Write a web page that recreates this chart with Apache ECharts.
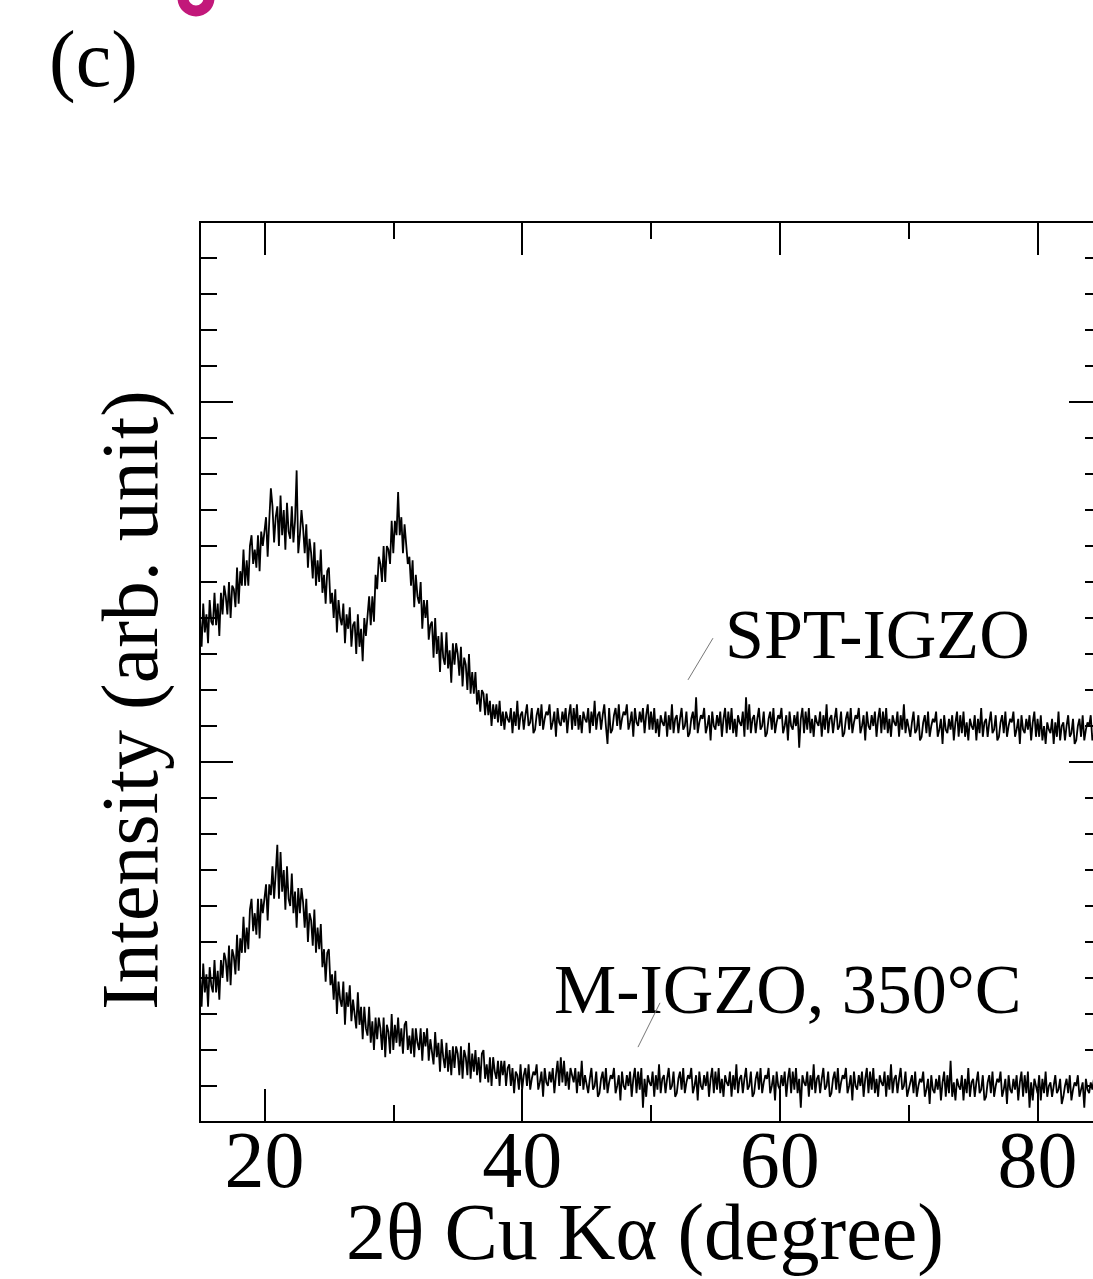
<!DOCTYPE html>
<html>
<head>
<meta charset="utf-8">
<script src="https://cdn.jsdelivr.net/npm/echarts@6/dist/echarts.min.js"></script>
<style>
html,body{margin:0;padding:0;background:#fff;overflow:hidden;}
#chart{width:1093px;height:1279px;}
</style>
</head>
<body>
<div id="chart"></div>
<script>
// 2θ (degree) sampling of the scans
const twoTheta = [
15,15.125,15.25,15.375,15.5,15.625,15.75,15.875,
16,16.125,16.25,16.375,16.5,16.625,16.75,16.875,
17,17.125,17.25,17.375,17.5,17.625,17.75,17.875,
18,18.125,18.25,18.375,18.5,18.625,18.75,18.875,
19,19.125,19.25,19.375,19.5,19.625,19.75,19.875,
20,20.125,20.25,20.375,20.5,20.625,20.75,20.875,
21,21.125,21.25,21.375,21.5,21.625,21.75,21.875,
22,22.125,22.25,22.375,22.5,22.625,22.75,22.875,
23,23.125,23.25,23.375,23.5,23.625,23.75,23.875,
24,24.125,24.25,24.375,24.5,24.625,24.75,24.875,
25,25.125,25.25,25.375,25.5,25.625,25.75,25.875,
26,26.125,26.25,26.375,26.5,26.625,26.75,26.875,
27,27.125,27.25,27.375,27.5,27.625,27.75,27.875,
28,28.125,28.25,28.375,28.5,28.625,28.75,28.875,
29,29.125,29.25,29.375,29.5,29.625,29.75,29.875,
30,30.125,30.25,30.375,30.5,30.625,30.75,30.875,
31,31.125,31.25,31.375,31.5,31.625,31.75,31.875,
32,32.125,32.25,32.375,32.5,32.625,32.75,32.875,
33,33.125,33.25,33.375,33.5,33.625,33.75,33.875,
34,34.125,34.25,34.375,34.5,34.625,34.75,34.875,
35,35.125,35.25,35.375,35.5,35.625,35.75,35.875,
36,36.125,36.25,36.375,36.5,36.625,36.75,36.875,
37,37.125,37.25,37.375,37.5,37.625,37.75,37.875,
38,38.125,38.25,38.375,38.5,38.625,38.75,38.875,
39,39.125,39.25,39.375,39.5,39.625,39.75,39.875,
40,40.125,40.25,40.375,40.5,40.625,40.75,40.875,
41,41.125,41.25,41.375,41.5,41.625,41.75,41.875,
42,42.125,42.25,42.375,42.5,42.625,42.75,42.875,
43,43.125,43.25,43.375,43.5,43.625,43.75,43.875,
44,44.125,44.25,44.375,44.5,44.625,44.75,44.875,
45,45.125,45.25,45.375,45.5,45.625,45.75,45.875,
46,46.125,46.25,46.375,46.5,46.625,46.75,46.875,
47,47.125,47.25,47.375,47.5,47.625,47.75,47.875,
48,48.125,48.25,48.375,48.5,48.625,48.75,48.875,
49,49.125,49.25,49.375,49.5,49.625,49.75,49.875,
50,50.125,50.25,50.375,50.5,50.625,50.75,50.875,
51,51.125,51.25,51.375,51.5,51.625,51.75,51.875,
52,52.125,52.25,52.375,52.5,52.625,52.75,52.875,
53,53.125,53.25,53.375,53.5,53.625,53.75,53.875,
54,54.125,54.25,54.375,54.5,54.625,54.75,54.875,
55,55.125,55.25,55.375,55.5,55.625,55.75,55.875,
56,56.125,56.25,56.375,56.5,56.625,56.75,56.875,
57,57.125,57.25,57.375,57.5,57.625,57.75,57.875,
58,58.125,58.25,58.375,58.5,58.625,58.75,58.875,
59,59.125,59.25,59.375,59.5,59.625,59.75,59.875,
60,60.125,60.25,60.375,60.5,60.625,60.75,60.875,
61,61.125,61.25,61.375,61.5,61.625,61.75,61.875,
62,62.125,62.25,62.375,62.5,62.625,62.75,62.875,
63,63.125,63.25,63.375,63.5,63.625,63.75,63.875,
64,64.125,64.25,64.375,64.5,64.625,64.75,64.875,
65,65.125,65.25,65.375,65.5,65.625,65.75,65.875,
66,66.125,66.25,66.375,66.5,66.625,66.75,66.875,
67,67.125,67.25,67.375,67.5,67.625,67.75,67.875,
68,68.125,68.25,68.375,68.5,68.625,68.75,68.875,
69,69.125,69.25,69.375,69.5,69.625,69.75,69.875,
70,70.125,70.25,70.375,70.5,70.625,70.75,70.875,
71,71.125,71.25,71.375,71.5,71.625,71.75,71.875,
72,72.125,72.25,72.375,72.5,72.625,72.75,72.875,
73,73.125,73.25,73.375,73.5,73.625,73.75,73.875,
74,74.125,74.25,74.375,74.5,74.625,74.75,74.875,
75,75.125,75.25,75.375,75.5,75.625,75.75,75.875,
76,76.125,76.25,76.375,76.5,76.625,76.75,76.875,
77,77.125,77.25,77.375,77.5,77.625,77.75,77.875,
78,78.125,78.25,78.375,78.5,78.625,78.75,78.875,
79,79.125,79.25,79.375,79.5,79.625,79.75,79.875,
80,80.125,80.25,80.375,80.5,80.625,80.75,80.875,
81,81.125,81.25,81.375,81.5,81.625,81.75,81.875,
82,82.125,82.25,82.375,82.5,82.625,82.75,82.875,
83,83.125,83.25,83.375,83.5,83.625,83.75,83.875,
84,84.125,84.25,84.375,84.5,84.625,84.75,84.875,
85
];

// SPT-IGZO intensity (arb. unit, offset trace)
const sptIGZO = [
1.40,1.32,1.44,1.36,1.41,1.33,1.45,1.39,
1.38,1.47,1.38,1.44,1.35,1.47,1.41,1.49,
1.46,1.41,1.50,1.40,1.49,1.48,1.43,1.54,
1.44,1.53,1.49,1.59,1.49,1.56,1.49,1.60,
1.63,1.55,1.59,1.54,1.63,1.53,1.64,1.60,
1.60,1.68,1.57,1.67,1.76,1.71,1.61,1.68,
1.71,1.60,1.74,1.63,1.70,1.59,1.72,1.64,
1.62,1.71,1.61,1.67,1.81,1.58,1.63,1.70,
1.65,1.58,1.66,1.54,1.62,1.58,1.51,1.61,
1.49,1.56,1.50,1.59,1.47,1.52,1.44,1.53,
1.54,1.44,1.47,1.40,1.48,1.36,1.45,1.40,
1.38,1.44,1.33,1.41,1.37,1.43,1.32,1.38,
1.39,1.30,1.41,1.32,1.37,1.28,1.40,1.35,
1.35,1.46,1.38,1.46,1.39,1.52,1.48,1.57,
1.55,1.50,1.60,1.50,1.60,1.59,1.55,1.67,
1.58,1.67,1.63,1.75,1.63,1.68,1.58,1.66,
1.66,1.55,1.57,1.49,1.56,1.43,1.52,1.46,
1.44,1.50,1.37,1.45,1.40,1.45,1.34,1.38,
1.39,1.29,1.40,1.30,1.35,1.25,1.36,1.29,
1.27,1.36,1.26,1.31,1.22,1.33,1.27,1.33,
1.30,1.24,1.32,1.21,1.29,1.27,1.20,1.30,
1.19,1.25,1.19,1.25,1.16,1.20,1.14,1.20,
1.19,1.13,1.19,1.13,1.17,1.10,1.16,1.12,
1.16,1.11,1.17,1.10,1.14,1.09,1.14,1.12,
1.11,1.15,1.08,1.14,1.10,1.17,1.09,1.13,
1.14,1.09,1.13,1.16,1.10,1.11,1.15,1.08,
1.09,1.13,1.15,1.10,1.16,1.09,1.12,1.14,
1.13,1.16,1.09,1.11,1.14,1.07,1.15,1.11,
1.10,1.14,1.11,1.15,1.08,1.13,1.16,1.09,
1.15,1.10,1.16,1.09,1.13,1.08,1.14,1.12,
1.11,1.15,1.08,1.14,1.10,1.17,1.09,1.13,
1.14,1.09,1.13,1.16,1.10,1.05,1.15,1.08,
1.09,1.13,1.15,1.10,1.16,1.09,1.12,1.14,
1.13,1.16,1.09,1.11,1.14,1.07,1.15,1.11,
1.10,1.14,1.11,1.15,1.08,1.13,1.16,1.09,
1.14,1.09,1.15,1.08,1.12,1.07,1.13,1.11,
1.10,1.14,1.07,1.13,1.09,1.16,1.08,1.12,
1.13,1.08,1.12,1.15,1.09,1.10,1.14,1.07,
1.08,1.12,1.14,1.09,1.18,1.08,1.11,1.13,
1.12,1.15,1.08,1.10,1.13,1.06,1.14,1.10,
1.09,1.13,1.10,1.14,1.07,1.12,1.15,1.08,
1.14,1.09,1.15,1.08,1.12,1.07,1.13,1.11,
1.10,1.14,1.07,1.18,1.09,1.16,1.08,1.12,
1.13,1.08,1.12,1.15,1.09,1.10,1.14,1.07,
1.08,1.12,1.14,1.09,1.15,1.08,1.11,1.13,
1.12,1.15,1.08,1.10,1.13,1.06,1.14,1.10,
1.09,1.13,1.10,1.14,1.04,1.12,1.15,1.08,
1.14,1.09,1.15,1.08,1.12,1.07,1.13,1.11,
1.10,1.14,1.07,1.13,1.09,1.16,1.08,1.12,
1.13,1.08,1.12,1.15,1.09,1.10,1.14,1.07,
1.08,1.12,1.14,1.09,1.15,1.08,1.11,1.13,
1.12,1.15,1.08,1.10,1.13,1.06,1.14,1.10,
1.09,1.13,1.10,1.14,1.07,1.12,1.15,1.08,
1.14,1.09,1.15,1.08,1.12,1.07,1.13,1.11,
1.10,1.14,1.07,1.13,1.09,1.16,1.08,1.12,
1.12,1.07,1.11,1.14,1.08,1.09,1.13,1.06,
1.07,1.11,1.13,1.08,1.14,1.07,1.10,1.12,
1.11,1.14,1.07,1.09,1.12,1.05,1.13,1.09,
1.08,1.12,1.09,1.13,1.06,1.11,1.14,1.07,
1.13,1.08,1.14,1.07,1.11,1.06,1.12,1.10,
1.09,1.13,1.06,1.12,1.08,1.15,1.07,1.11,
1.12,1.07,1.11,1.14,1.08,1.09,1.13,1.06,
1.07,1.11,1.13,1.08,1.14,1.07,1.10,1.12,
1.11,1.14,1.07,1.09,1.12,1.05,1.13,1.09,
1.08,1.12,1.09,1.13,1.06,1.11,1.14,1.07,
1.12,1.07,1.13,1.06,1.10,1.05,1.11,1.09,
1.08,1.12,1.05,1.11,1.07,1.14,1.06,1.10,
1.11,1.06,1.10,1.13,1.07,1.08,1.12,1.05,
1.06,1.10,1.12,1.07,1.13,1.06,1.09,1.11,
1.10,1.13,1.06,1.08,1.11,1.04,1.12,1.08,
1.07
];

// M-IGZO, 350°C intensity (arb. unit)
const mIGZO = [
0.41,0.32,0.44,0.36,0.41,0.32,0.43,0.38,
0.36,0.45,0.36,0.42,0.34,0.45,0.40,0.47,
0.45,0.39,0.49,0.38,0.48,0.46,0.41,0.52,
0.42,0.51,0.47,0.57,0.47,0.54,0.48,0.59,
0.62,0.53,0.58,0.52,0.62,0.51,0.62,0.58,
0.58,0.66,0.56,0.66,0.63,0.71,0.62,0.69,
0.77,0.62,0.75,0.64,0.70,0.59,0.71,0.62,
0.60,0.69,0.58,0.64,0.54,0.65,0.58,0.65,
0.61,0.54,0.62,0.50,0.58,0.56,0.49,0.59,
0.47,0.54,0.48,0.55,0.43,0.48,0.39,0.47,
0.48,0.38,0.41,0.34,0.42,0.30,0.39,0.34,
0.32,0.39,0.27,0.36,0.32,0.38,0.28,0.34,
0.34,0.26,0.36,0.27,0.32,0.23,0.32,0.26,
0.24,0.32,0.22,0.28,0.20,0.29,0.23,0.29,
0.26,0.20,0.29,0.18,0.27,0.25,0.19,0.30,
0.20,0.27,0.22,0.29,0.21,0.26,0.19,0.27,
0.28,0.20,0.24,0.19,0.26,0.18,0.26,0.22,
0.20,0.26,0.17,0.25,0.21,0.26,0.17,0.23,
0.23,0.16,0.25,0.18,0.22,0.14,0.23,0.18,
0.15,0.22,0.14,0.20,0.13,0.21,0.15,0.21,
0.19,0.13,0.21,0.12,0.20,0.18,0.13,0.22,
0.12,0.19,0.14,0.20,0.13,0.18,0.11,0.19,
0.20,0.12,0.16,0.11,0.18,0.10,0.18,0.14,
0.12,0.17,0.10,0.17,0.13,0.17,0.10,0.15,
0.16,0.10,0.15,0.08,0.14,0.13,0.09,0.16,
0.09,0.13,0.15,0.10,0.16,0.09,0.12,0.14,
0.13,0.16,0.09,0.11,0.14,0.07,0.15,0.11,
0.10,0.14,0.11,0.15,0.08,0.13,0.17,0.10,
0.18,0.11,0.17,0.10,0.14,0.09,0.15,0.13,
0.11,0.15,0.08,0.14,0.10,0.17,0.09,0.13,
0.13,0.08,0.12,0.15,0.09,0.10,0.14,0.07,
0.08,0.12,0.14,0.09,0.15,0.08,0.11,0.13,
0.12,0.15,0.08,0.10,0.13,0.06,0.14,0.10,
0.09,0.13,0.10,0.14,0.07,0.12,0.15,0.08,
0.14,0.09,0.15,0.04,0.12,0.07,0.13,0.11,
0.10,0.14,0.07,0.13,0.09,0.16,0.08,0.12,
0.13,0.08,0.12,0.15,0.09,0.10,0.14,0.07,
0.08,0.12,0.14,0.09,0.15,0.08,0.11,0.13,
0.12,0.15,0.08,0.10,0.13,0.06,0.14,0.10,
0.09,0.13,0.10,0.14,0.07,0.12,0.15,0.08,
0.14,0.09,0.15,0.08,0.12,0.07,0.13,0.11,
0.10,0.14,0.07,0.13,0.09,0.16,0.08,0.12,
0.13,0.08,0.12,0.15,0.09,0.10,0.14,0.07,
0.08,0.12,0.14,0.09,0.15,0.08,0.11,0.13,
0.12,0.15,0.08,0.10,0.13,0.06,0.14,0.10,
0.09,0.13,0.10,0.14,0.07,0.12,0.15,0.08,
0.14,0.09,0.15,0.08,0.12,0.04,0.13,0.11,
0.10,0.14,0.07,0.13,0.09,0.16,0.08,0.12,
0.13,0.08,0.12,0.15,0.09,0.10,0.14,0.07,
0.08,0.12,0.14,0.09,0.15,0.08,0.11,0.13,
0.12,0.15,0.08,0.10,0.13,0.06,0.14,0.10,
0.09,0.13,0.10,0.14,0.07,0.12,0.15,0.08,
0.14,0.09,0.15,0.08,0.12,0.07,0.13,0.11,
0.10,0.14,0.07,0.13,0.09,0.16,0.08,0.12,
0.13,0.08,0.12,0.15,0.09,0.10,0.14,0.07,
0.07,0.11,0.13,0.08,0.14,0.07,0.10,0.12,
0.11,0.14,0.07,0.09,0.12,0.05,0.13,0.09,
0.08,0.12,0.09,0.13,0.06,0.11,0.14,0.07,
0.13,0.08,0.17,0.07,0.11,0.06,0.12,0.10,
0.09,0.13,0.06,0.12,0.08,0.15,0.07,0.11,
0.12,0.07,0.11,0.14,0.08,0.09,0.13,0.06,
0.07,0.11,0.13,0.08,0.14,0.07,0.10,0.12,
0.11,0.14,0.07,0.09,0.12,0.05,0.13,0.09,
0.08,0.12,0.09,0.13,0.06,0.11,0.14,0.07,
0.13,0.08,0.14,0.04,0.11,0.06,0.12,0.10,
0.08,0.13,0.06,0.12,0.08,0.14,0.07,0.10,
0.11,0.07,0.10,0.13,0.08,0.09,0.12,0.05,
0.07,0.10,0.12,0.08,0.13,0.06,0.09,0.11,
0.10,0.13,0.07,0.09,0.11,0.04,0.12,0.09,
0.08,0.11,0.09,0.12,0.05,0.10,0.13,0.07,
0.09
];

// axis ticks
const xMajorTicks = [20, 40, 60, 80];
const xMinorTicks = [30, 50, 70];
const yMajorTicks = [0, 1, 2];
const yMinorTicks = [0.1,0.2,0.3,0.4,0.5,0.6,0.7,0.8,0.9,1.1,1.2,1.3,1.4,1.5,1.6,1.7,1.8,1.9,2.1,2.2,2.3,2.4];

// labels and their leader lines (data coordinates)
const traceLabels = ['SPT-IGZO', 'M-IGZO, 350°C'];
const leaderLines = [
  [[54.81, 1.344], [52.87, 1.228]],
  [[50.70, 0.331], [48.99, 0.208]]
];

const FONT = '"Liberation Serif", "Times New Roman", serif';
const BLACK = '#000';

const chart = echarts.init(document.getElementById('chart'), null, {renderer: 'canvas'});

function xAxisDef(position, ticks, len, withLabel) {
  return {
    type: 'value', min: 15, max: 85, position: position,
    axisLine: {show: true, onZero: false, lineStyle: {color: BLACK, width: 2}},
    axisTick: {show: true, inside: true, length: len, customValues: ticks, lineStyle: {color: BLACK, width: 2}},
    axisLabel: withLabel ? {show: true, customValues: ticks, fontFamily: FONT, fontSize: 80, color: BLACK, margin: 4} : {show: false},
    splitLine: {show: false}
  };
}
function yAxisDef(position, ticks, len) {
  return {
    type: 'value', min: 0, max: 2.5, position: position,
    axisLine: {show: true, onZero: false, lineStyle: {color: BLACK, width: 2}},
    axisTick: {show: true, inside: true, length: len, customValues: ticks, lineStyle: {color: BLACK, width: 2}},
    axisLabel: {show: false},
    splitLine: {show: false}
  };
}

const xMain = xAxisDef('bottom', xMajorTicks, 33, true);
xMain.name = '2θ Cu Kα (degree)';
xMain.nameLocation = 'middle';
xMain.nameGap = 76;
xMain.nameMoveOverlap = false;
xMain.nameTextStyle = {fontFamily: FONT, fontSize: 80, color: BLACK, padding: [0, 12, 0, 0]};

const yMain = yAxisDef('left', yMajorTicks, 33);
yMain.name = 'Intensity (arb. unit)';
yMain.nameLocation = 'middle';
yMain.nameGap = 24;
yMain.nameMoveOverlap = false;
yMain.nameTextStyle = {fontFamily: FONT, fontSize: 80, color: BLACK, padding: [0, 56, 0, 0]};

function pairs(ys) { return twoTheta.map((x, i) => [x, ys[i]]); }

const option = {
  animation: false,
  backgroundColor: '#fff',
  grid: {left: 200, top: 222, width: 902, height: 900, containLabel: false, outerBoundsMode: 'none'},
  xAxis: [
    xMain,
    xAxisDef('bottom', xMinorTicks, 17, false),
    xAxisDef('top', xMajorTicks, 33, false),
    xAxisDef('top', xMinorTicks, 17, false)
  ],
  yAxis: [
    yMain,
    yAxisDef('left', yMinorTicks, 17),
    yAxisDef('right', yMajorTicks, 33),
    yAxisDef('right', yMinorTicks, 17)
  ],
  graphic: [
    {type: 'text', left: 49, top: 25, style: {text: '(c)', font: '80px ' + FONT, fill: BLACK}},
    {type: 'arc', shape: {cx: 196, cy: -2, r: 13, startAngle: 0, endAngle: Math.PI}, style: {stroke: '#c2187a', lineWidth: 11, fill: null}},
    {type: 'text', x: 725, y: 640, style: {text: traceLabels[0], font: '70px ' + FONT, fill: BLACK, verticalAlign: 'middle', align: 'left'}},
    {type: 'text', x: 554, y: 995, style: {text: traceLabels[1], font: '70px ' + FONT, fill: BLACK, verticalAlign: 'middle', align: 'left'}}
  ],
  series: [
    {
      name: traceLabels[0], type: 'line', xAxisIndex: 0, yAxisIndex: 0,
      data: pairs(sptIGZO), showSymbol: false, symbol: 'none', sampling: false,
      lineStyle: {color: BLACK, width: 1.8}, silent: true,
      markLine: {silent: true, symbol: 'none', label: {show: false}, lineStyle: {color: '#777', width: 1, type: 'solid'},
        data: [[{coord: leaderLines[0][0]}, {coord: leaderLines[0][1]}]]}
    },
    {
      name: traceLabels[1], type: 'line', xAxisIndex: 0, yAxisIndex: 0,
      data: pairs(mIGZO), showSymbol: false, symbol: 'none', sampling: false,
      lineStyle: {color: BLACK, width: 1.8}, silent: true,
      markLine: {silent: true, symbol: 'none', label: {show: false}, lineStyle: {color: '#777', width: 1, type: 'solid'},
        data: [[{coord: leaderLines[1][0]}, {coord: leaderLines[1][1]}]]}
    }
  ]
};
chart.setOption(option);
</script>
</body>
</html>
